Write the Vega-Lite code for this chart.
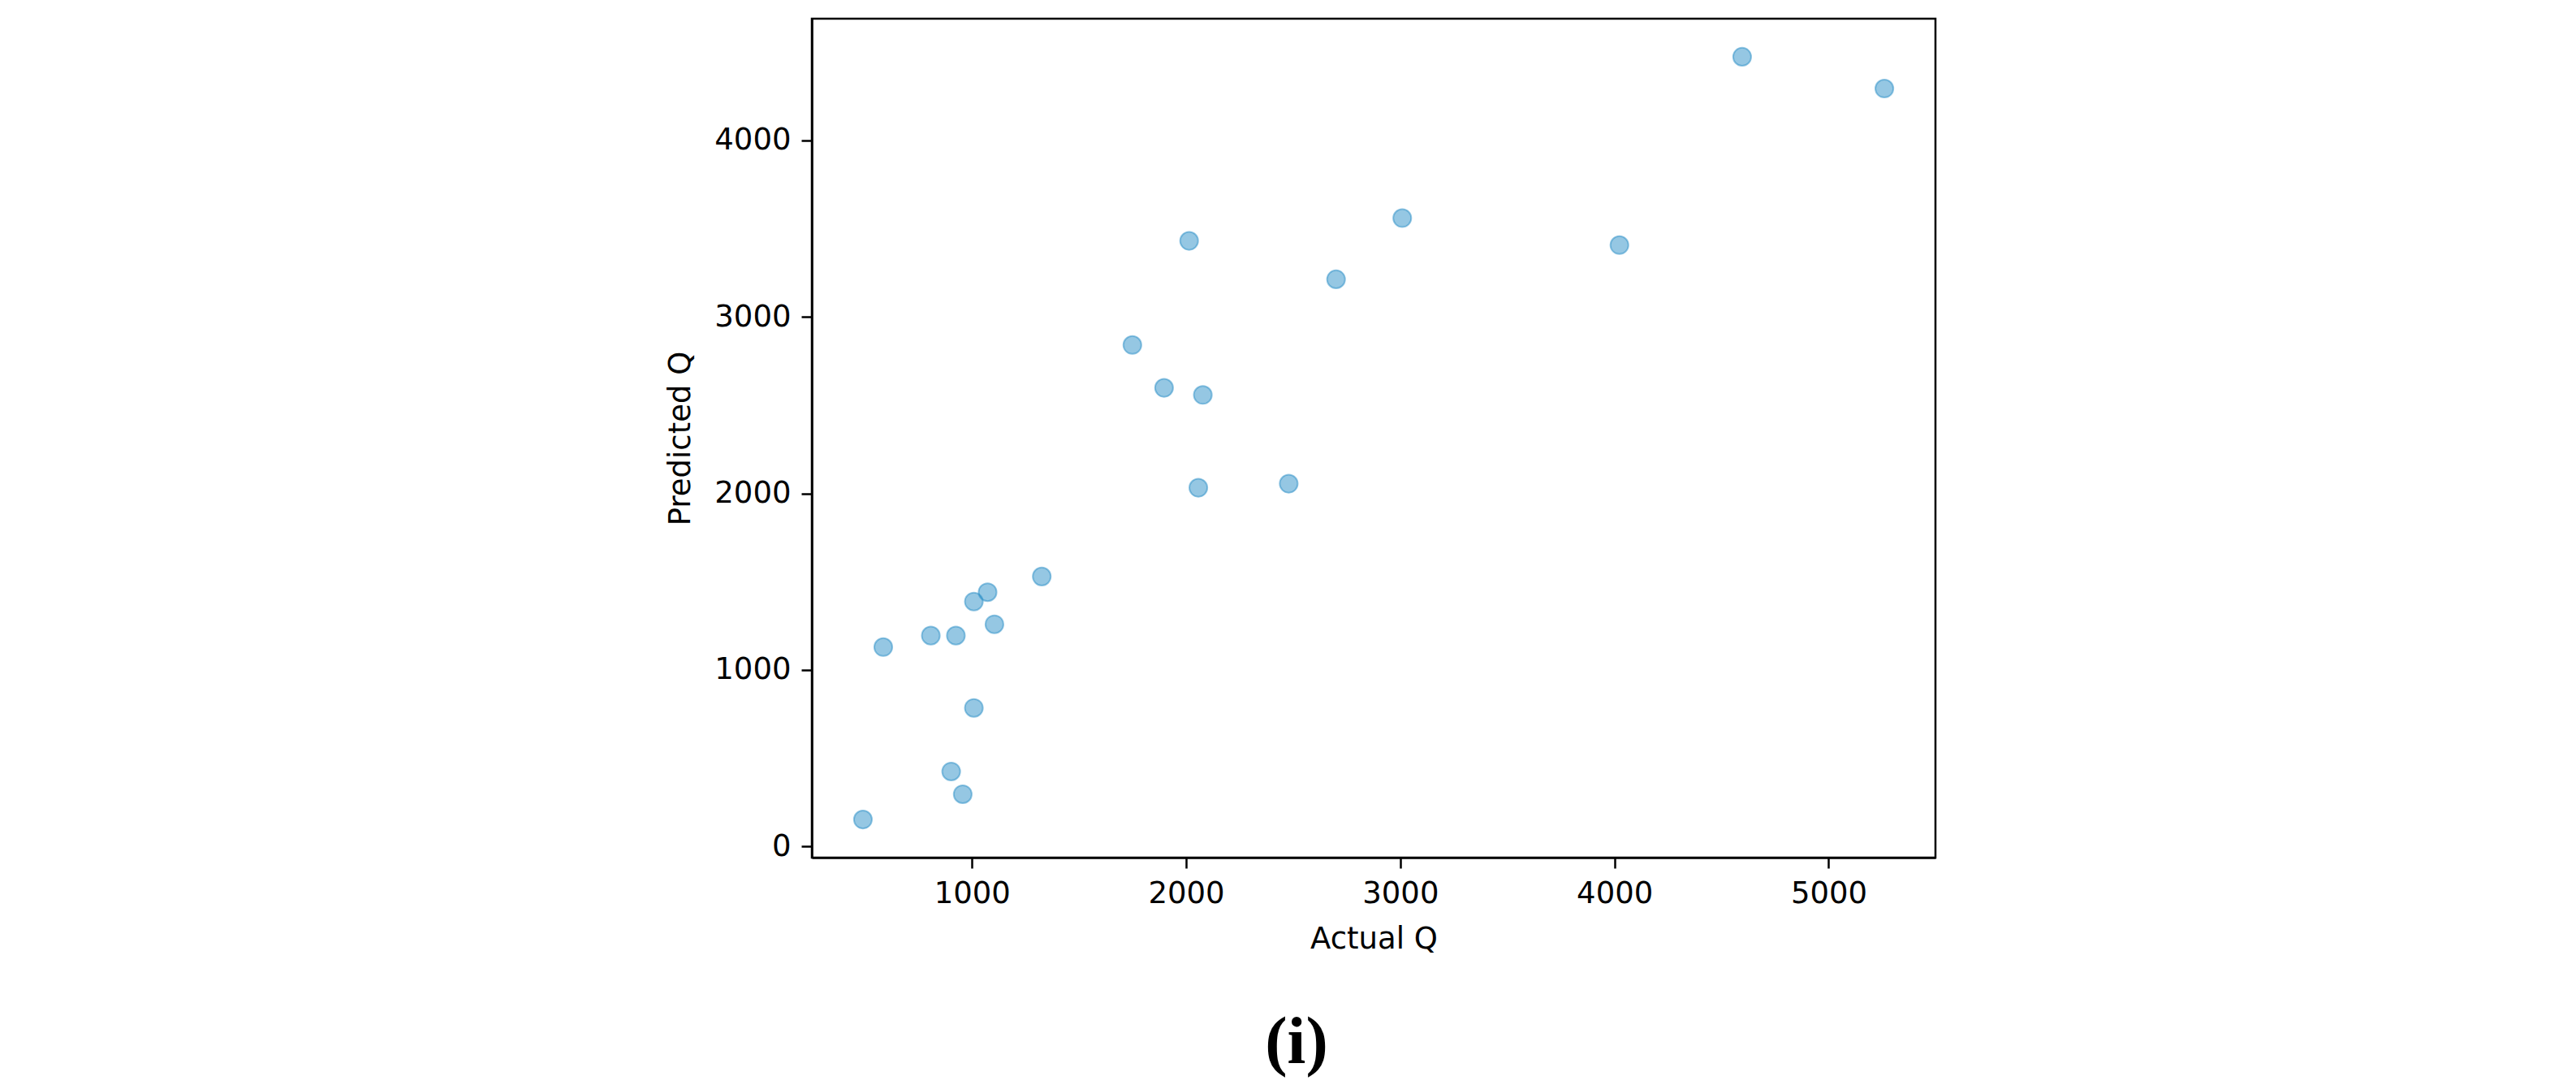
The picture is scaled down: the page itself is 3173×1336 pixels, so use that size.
{
  "$schema": "https://vega.github.io/schema/vega-lite/v6.json",
  "autosize": "none",
  "width": 1384,
  "height": 1033,
  "padding": {"left": 1000, "top": 23, "right": 789, "bottom": 280},
  "background": "white",
  "view": {"stroke": "black", "strokeWidth": 2.5},
  "title": {
    "text": "(i)",
    "orient": "bottom",
    "anchor": "middle",
    "font": "Liberation Serif",
    "fontWeight": "bold",
    "fontSize": 82,
    "color": "black",
    "dx": -95,
    "offset": 70
  },
  "config": {
    "view": {"stroke": "black", "strokeWidth": 2.5},
    "axis": {
      "grid": false,
      "domainColor": "black",
      "domainWidth": 2.5,
      "tickColor": "black",
      "tickWidth": 2.5,
      "tickSize": 13,
      "labelFont": "DejaVu Sans",
      "labelFontSize": 37,
      "labelColor": "black",
      "labelPadding": 13,
      "titleFont": "DejaVu Sans",
      "titleFontSize": 37,
      "titleFontWeight": "normal",
      "titleColor": "black"
    }
  },
  "data": {
    "values": [
      {"actual": 1326, "predicted": 1529},
      {"actual": 1073, "predicted": 1440},
      {"actual": 1009, "predicted": 1387},
      {"actual": 1105, "predicted": 1258},
      {"actual": 808, "predicted": 1194},
      {"actual": 925, "predicted": 1194},
      {"actual": 586, "predicted": 1129},
      {"actual": 1009, "predicted": 784},
      {"actual": 903, "predicted": 424},
      {"actual": 957, "predicted": 295},
      {"actual": 491, "predicted": 152},
      {"actual": 1749, "predicted": 2841},
      {"actual": 1897, "predicted": 2598},
      {"actual": 2078, "predicted": 2558},
      {"actual": 2057, "predicted": 2032},
      {"actual": 2014, "predicted": 3431},
      {"actual": 2700, "predicted": 3213},
      {"actual": 2479, "predicted": 2055},
      {"actual": 3009, "predicted": 3560},
      {"actual": 4023, "predicted": 3407},
      {"actual": 4596, "predicted": 4474},
      {"actual": 5260, "predicted": 4294}
    ]
  },
  "mark": {
    "type": "point",
    "shape": "circle",
    "filled": false,
    "fill": "#2b8fc8",
    "fillOpacity": 0.5,
    "stroke": "#2b8fc8",
    "strokeOpacity": 0.5,
    "strokeWidth": 2,
    "size": 490
  },
  "encoding": {
    "x": {
      "field": "actual",
      "type": "quantitative",
      "title": "Actual Q",
      "scale": {"domain": [252.5, 5498.5], "nice": false, "zero": false},
      "axis": {"values": [1000, 2000, 3000, 4000, 5000], "format": "d", "titlePadding": 20}
    },
    "y": {
      "field": "predicted",
      "type": "quantitative",
      "title": "Predicted Q",
      "scale": {"domain": [-64, 4690], "nice": false, "zero": false},
      "axis": {"values": [0, 1000, 2000, 3000, 4000], "format": "d", "titlePadding": 22}
    }
  }
}
